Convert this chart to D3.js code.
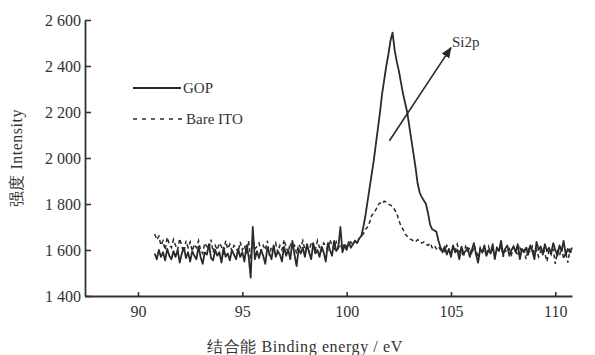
<!DOCTYPE html>
<html><head><meta charset="utf-8">
<script src="https://cdn.jsdelivr.net/npm/d3@7"></script>
<style>body{margin:0;background:#fff}svg{display:block}text{font-family:"Liberation Serif","Times New Roman",serif;fill:#333}</style>
</head><body><svg id="c" width="595" height="355"></svg>
<script>
// Sampling grid for the spectra (binding energy, eV)
const energyStart = 90.8;
const energyStep = 0.1;
// GOP intensity (solid)
const gopValues = [
1585,1560,1600,1570,1590,1555,1605,1575,1560,1595,
1570,1600,1545,1585,1610,1565,1590,1550,1595,1575,
1560,1615,1570,1540,1590,1580,1625,1565,1555,1600,
1575,1590,1545,1610,1570,1585,1555,1600,1580,1560,
1605,1570,1590,1550,1620,1575,1480,1700,1560,1595,
1565,1600,1575,1540,1610,1585,1560,1620,1570,1595,
1580,1550,1615,1575,1600,1560,1640,1580,1530,1605,
1585,1610,1570,1625,1590,1560,1630,1585,1600,1570,
1615,1590,1550,1630,1600,1575,1640,1595,1610,1700,
1590,1620,1600,1635,1610,1625,1640,1630,1650,1660,
1700,1750,1810,1870,1930,1990,2060,2130,2200,2280,
2340,2400,2450,2510,2545,2470,2420,2380,2330,2280,
2240,2200,2140,2080,2020,1960,1890,1850,1830,1815,
1800,1760,1710,1690,1685,1680,1640,1610,1590,1615,
1580,1605,1570,1620,1590,1600,1560,1615,1585,1595,
1610,1570,1600,1630,1580,1545,1605,1590,1620,1575,
1600,1585,1625,1560,1610,1595,1640,1580,1605,1620,
1575,1600,1615,1590,1625,1560,1605,1590,1610,1580,
1620,1595,1560,1635,1600,1615,1580,1625,1595,1610,
1585,1630,1600,1575,1620,1595,1640,1580,1605,1590,
1610];
// Bare ITO intensity (dashed)
const itoValues = [
1670,1645,1660,1620,1640,1600,1655,1625,1610,1645,
1620,1600,1650,1615,1590,1640,1610,1635,1595,1625,
1610,1640,1600,1585,1630,1615,1605,1645,1590,1620,
1600,1630,1615,1580,1640,1605,1625,1595,1620,1610,
1590,1635,1600,1620,1585,1640,1560,1650,1605,1615,
1630,1595,1620,1600,1640,1575,1615,1605,1630,1590,
1620,1600,1645,1610,1590,1630,1605,1620,1585,1625,
1610,1640,1600,1615,1590,1635,1620,1600,1640,1610,
1595,1630,1615,1600,1645,1620,1605,1635,1610,1625,
1600,1630,1615,1620,1635,1625,1640,1630,1650,1660,
1670,1690,1700,1720,1750,1760,1775,1795,1805,1800,
1812,1808,1800,1795,1790,1775,1760,1730,1705,1690,
1670,1660,1650,1645,1640,1635,1645,1640,1630,1635,
1625,1620,1630,1610,1620,1605,1615,1600,1610,1595,
1620,1600,1585,1610,1595,1625,1590,1600,1570,1615,
1595,1610,1580,1620,1600,1565,1610,1590,1605,1575,
1615,1590,1600,1580,1610,1595,1620,1570,1600,1590,
1605,1580,1615,1595,1575,1610,1590,1600,1560,1605,
1590,1615,1580,1600,1570,1595,1610,1585,1550,1600,
1580,1605,1540,1595,1575,1610,1560,1590,1545,1600,
1585];
const xTicks = [90, 95, 100, 105, 110];
const yTicks = [1400, 1600, 1800, 2000, 2200, 2400, 2600];
const seriesNames = ["GOP", "Bare ITO"];
const peakLabel = "Si2p";
const arrowFrom = [102.05, 2075];
const arrowTo = [105.0, 2480];

const svg = d3.select("#c");
const x = d3.scaleLinear().domain([87.46, 110.8]).range([85, 572]);
const y = d3.scaleLinear().domain([1400, 2600]).range([296, 20]);
const ink = "#2a2a2a";

const toPts = vals => vals.map((v, i) => [energyStart + i * energyStep, v]);
const line = d3.line().x(d => x(d[0])).y(d => y(d[1]));

svg.append("path").datum(toPts(itoValues)).attr("d", line)
  .attr("fill", "none").attr("stroke", ink).attr("stroke-width", 1.5)
  .attr("stroke-dasharray", "4,3");
svg.append("path").datum(toPts(gopValues)).attr("d", line)
  .attr("fill", "none").attr("stroke", ink).attr("stroke-width", 1.8)
  .attr("stroke-linejoin", "round");

const fmt = d => d3.format(",")(d).replace(",", " ");
const ya = svg.append("g").attr("transform", "translate(85,0)")
  .call(d3.axisLeft(y).tickValues(yTicks).tickFormat(fmt).tickSizeInner(-6).tickSizeOuter(0).tickPadding(4));
const xa = svg.append("g").attr("transform", "translate(0,296)")
  .call(d3.axisBottom(x).tickValues(xTicks).tickSizeInner(-4).tickSizeOuter(0).tickPadding(10));
[ya, xa].forEach(g => {
  g.select(".domain").attr("stroke", "#333").attr("stroke-width", 1.8);
  g.selectAll(".tick line").attr("stroke", "#333").attr("stroke-width", 1.6);
  g.selectAll("text").attr("font-size", 16).attr("fill", "#444")
    .attr("font-family", '"Liberation Serif",serif');
});

// axis titles
svg.append("text").attr("x", 305).attr("y", 352).attr("text-anchor", "middle")
  .attr("font-size", 16).attr("letter-spacing", 0.6).text("结合能 Binding energy / eV");
svg.append("text").attr("transform", "translate(22,158) rotate(-90)")
  .attr("text-anchor", "middle").attr("font-size", 16).attr("letter-spacing", 0.5).text("强度 Intensity");

// legend
const lg = svg.append("g");
lg.append("line").attr("x1", 133).attr("x2", 181).attr("y1", 88).attr("y2", 88)
  .attr("stroke", ink).attr("stroke-width", 1.8);
lg.append("text").attr("x", 183).attr("y", 93).attr("font-size", 15).text(seriesNames[0]);
lg.append("line").attr("x1", 133).attr("x2", 184).attr("y1", 119).attr("y2", 119)
  .attr("stroke", ink).attr("stroke-width", 1.5).attr("stroke-dasharray", "4,5");
lg.append("text").attr("x", 186).attr("y", 124).attr("font-size", 15).text(seriesNames[1]);

// annotation arrow
svg.append("defs").append("marker").attr("id", "ah").attr("viewBox", "0 0 10 10")
  .attr("refX", 9).attr("refY", 5).attr("markerWidth", 7).attr("markerHeight", 7)
  .attr("orient", "auto").append("path").attr("d", "M0,1L10,5L0,9z").attr("fill", ink);
svg.append("line").attr("x1", x(arrowFrom[0])).attr("y1", y(arrowFrom[1]))
  .attr("x2", x(arrowTo[0])).attr("y2", y(arrowTo[1]))
  .attr("stroke", ink).attr("stroke-width", 1.6).attr("marker-end", "url(#ah)");
svg.append("text").attr("x", x(arrowTo[0]) + 1).attr("y", y(arrowTo[1]) - 1)
  .attr("font-size", 15).text(peakLabel);
</script></body></html>
